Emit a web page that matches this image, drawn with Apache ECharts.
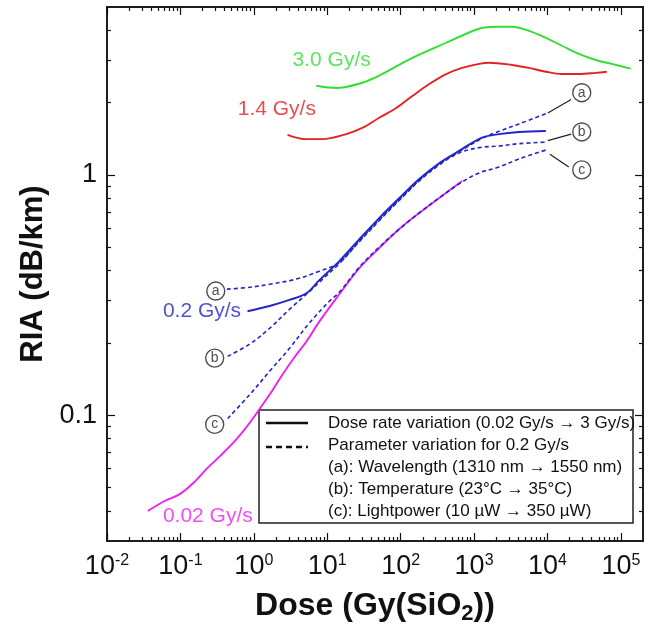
<!DOCTYPE html>
<html>
<head>
<meta charset="utf-8">
<script src="https://cdn.jsdelivr.net/npm/echarts@6/dist/echarts.min.js"></script>
<style>
html, body { margin: 0; padding: 0; background: #fff; }
#chart { width: 657px; height: 632px; }
</style>
</head>
<body>
<div id="chart"></div>
<script>
// values: dose in Gy(SiO2), RIA in dB/km
var dose30 = [7.1, 13.3, 30, 51, 144, 417, 1170, 1990, 3280, 5590, 9510, 15700, 26700, 45400, 75000, 136000];
var ria30 = [2.35, 2.30, 2.42, 2.59, 3.07, 3.55, 4.06, 4.14, 4.14, 3.98, 3.72, 3.45, 3.19, 3.01, 2.90, 2.77];

var dose14 = [2.88, 5.2, 8.6, 18.2, 30, 51, 87, 144, 245, 417, 687, 1170, 1600, 3280, 5590, 9510, 15700, 26700, 45400, 64100];
var ria14 = [1.47, 1.41, 1.41, 1.48, 1.57, 1.73, 1.90, 2.13, 2.39, 2.63, 2.79, 2.90, 2.93, 2.87, 2.79, 2.69, 2.63, 2.63, 2.66, 2.69];

var dose02 = [0.82, 1.64, 3.06, 5.2, 7.8, 14.6, 27.4, 51, 96, 179, 334, 625, 1285, 2190, 4090, 9500];
var ria02 = [0.271, 0.285, 0.302, 0.322, 0.365, 0.438, 0.541, 0.662, 0.802, 0.962, 1.12, 1.26, 1.43, 1.48, 1.51, 1.525];

var doseA = [0.43, 0.88, 1.64, 3.8, 7.8, 14.6, 27.4, 51, 96, 179, 334, 625, 1285, 2190, 4090, 9500];
var riaA = [0.335, 0.341, 0.351, 0.369, 0.398, 0.432, 0.532, 0.65, 0.79, 0.95, 1.11, 1.25, 1.42, 1.52, 1.63, 1.80];

var doseB = [0.44, 0.88, 1.64, 3.06, 5.2, 7.8, 14.6, 27.4, 51, 96, 179, 334, 625, 1170, 2190, 4090, 9500];
var riaB = [0.176, 0.198, 0.230, 0.276, 0.319, 0.358, 0.428, 0.528, 0.645, 0.785, 0.945, 1.10, 1.235, 1.30, 1.32, 1.35, 1.37];

var doseC = [0.44, 0.88, 1.64, 3.06, 5.7, 10.7, 14.6, 27.4, 51, 96, 179, 334, 687, 1170, 2190, 4090, 9500];
var riaC = [0.097, 0.122, 0.1525, 0.190, 0.242, 0.2985, 0.325, 0.414, 0.501, 0.596, 0.695, 0.802, 0.935, 1.02, 1.08, 1.166, 1.27];

var dose002 = [0.036, 0.061, 0.098, 0.157, 0.229, 0.343, 0.515, 0.75, 1.09, 1.64, 2.46, 3.58, 5.21, 7.83, 14.6, 27.4, 51.2, 95.7, 179, 334, 687];
var ria002 = [0.040, 0.044, 0.047, 0.053, 0.060, 0.0675, 0.0764, 0.0874, 0.102, 0.122, 0.148, 0.1745, 0.203, 0.246, 0.319, 0.41, 0.497, 0.596, 0.695, 0.802, 0.944];

// curve labels (anchor = left end of text)
var rateNames = ['3.0 Gy/s', '1.4 Gy/s', '0.2 Gy/s', '0.02 Gy/s'];
var rateColors = ['#33dd33', '#e32222', '#2424c8', '#ee22ee'];
var rateLabelAt = [[3.37, 2.99], [0.603, 1.88], [0.0577, 0.271], [0.0577, 0.0379]];

// circled markers (a),(b),(c) and leader lines
var markLetters = ['a', 'b', 'c', 'a', 'b', 'c'];
var markAt = [[0.303, 0.329], [0.293, 0.173], [0.293, 0.0917], [29300, 2.20], [29300, 1.51], [29300, 1.05]];
var leaders = [
  [[10100, 1.81], [21000, 2.06]],
  [[10100, 1.39], [21000, 1.48]],
  [[10800, 1.22], [19500, 1.08]]
];

var xMajor = [0.01, 0.1, 1, 10, 100, 1000, 10000, 100000];
var yMajor = [0.1, 1];
var legendRows = [
  'Dose rate variation (0.02 Gy/s \u2192 3 Gy/s)',
  'Parameter variation for 0.2 Gy/s',
  '(a): Wavelength (1310 nm \u2192 1550 nm)',
  '(b): Temperature (23\u00b0C \u2192 35\u00b0C)',
  '(c): Lightpower (10 \u00b5W \u2192 350 \u00b5W)'
];

function minors(majors, lo, hi) {
  var out = [];
  majors.concat([majors[0] / 10]).forEach(function (m) {
    for (var k = 2; k <= 9; k++) {
      var v = +(m * k).toPrecision(3);
      if (v > lo && v < hi) out.push(v);
    }
  });
  return out;
}
var xMinor = minors(xMajor, 0.01, 2e5);
var yMinor = minors([0.01, 0.1, 1], 0.03, 5);

function zip(xs, ys) {
  return xs.map(function (x, i) { return [x, ys[i]]; });
}

var FONT = 'Liberation Sans, Arial, sans-serif';

function expLabel(v) {
  var e = Math.round(Math.log(v) / Math.LN10);
  return '{b|10}{s|' + e + '}';
}

function xAxisDef(pos, ticks, len, withLabels) {
  var ax = {
    type: 'log', logBase: 10, min: 0.01, max: 2e5, position: pos,
    axisLine: { show: true, onZero: false, lineStyle: { color: '#111', width: 1.5 } },
    axisTick: { show: true, inside: true, length: len, customValues: ticks, lineStyle: { color: '#111', width: 1.2 } },
    axisLabel: { show: false },
    splitLine: { show: false }
  };
  if (withLabels) {
    ax.axisLabel = {
      show: true, margin: 12, customValues: xMajor, formatter: expLabel,
      rich: {
        b: { fontSize: 27, fontFamily: FONT, color: '#111' },
        s: { fontSize: 16, fontFamily: FONT, color: '#111', verticalAlign: 'top' }
      }
    };
    ax.name = '{t|Dose (Gy(SiO}{s|2}{t|))}';
    ax.nameLocation = 'middle';
    ax.nameGap = 46;
    ax.nameTextStyle = {
      rich: {
        t: { fontSize: 32, fontWeight: 'bold', fontFamily: FONT, color: '#111', lineHeight: 38 },
        s: { fontSize: 22, fontWeight: 'bold', fontFamily: FONT, color: '#111', verticalAlign: 'top', padding: [16, 0, 0, 0] }
      }
    };
  }
  return ax;
}

function yAxisDef(pos, ticks, len, withLabels) {
  var ax = {
    type: 'log', logBase: 10, min: 0.03, max: 5, position: pos,
    axisLine: { show: true, onZero: false, lineStyle: { color: '#111', width: 1.5 } },
    axisTick: { show: true, inside: true, length: len, customValues: ticks, lineStyle: { color: '#111', width: 1.2 } },
    axisLabel: { show: false },
    splitLine: { show: false }
  };
  if (withLabels) {
    ax.axisLabel = {
      show: true, margin: 10, customValues: yMajor,
      formatter: function (v) { return String(v); },
      fontSize: 27, fontFamily: FONT, color: '#111'
    };
    ax.name = 'RIA (dB/km)';
    ax.nameLocation = 'middle';
    ax.nameGap = 58;
    ax.nameTextStyle = { fontSize: 31, fontWeight: 'bold', fontFamily: FONT, color: '#111' };
  }
  return ax;
}

function curve(xs, ys, color, dashed) {
  return {
    type: 'line', data: zip(xs, ys), showSymbol: false, smooth: 0.35,
    lineStyle: { color: color, width: dashed ? 1.6 : 1.9, type: dashed ? [4, 3] : 'solid' },
    silent: true, z: dashed ? 3 : 2
  };
}

var series = [
  curve(dose30, ria30, rateColors[0], false),
  curve(dose14, ria14, rateColors[1], false),
  curve(dose002, ria002, rateColors[3], false),
  curve(dose02, ria02, rateColors[2], false),
  curve(doseA, riaA, rateColors[2], true),
  curve(doseB, riaB, rateColors[2], true),
  curve(doseC, riaC, rateColors[2], true)
];

leaders.forEach(function (seg) {
  series.push({
    type: 'line', data: seg, showSymbol: false, silent: true,
    lineStyle: { color: '#222', width: 1.3 }, z: 4
  });
});

series.push({
  type: 'scatter', symbolSize: 0, silent: true, z: 5,
  data: rateLabelAt.map(function (p, i) {
    return {
      value: p,
      label: { show: true, position: 'right', distance: 0, formatter: rateNames[i], color: rateColors[i], fontSize: 21, fontFamily: FONT }
    };
  })
});

series.push({
  type: 'scatter', symbol: 'circle', symbolSize: 18, silent: true, z: 6,
  itemStyle: { color: '#fff', borderColor: '#222', borderWidth: 1.4 },
  label: { show: true, position: 'inside', color: '#222', fontSize: 14, fontFamily: FONT },
  data: markAt.map(function (p, i) {
    return { value: p, label: { formatter: markLetters[i] } };
  })
});

// legend box drawn as graphic (rows with their own text)
var legendChildren = [
  { type: 'rect', shape: { x: 0, y: 0, width: 374, height: 113 }, style: { fill: '#fff', stroke: '#222', lineWidth: 1.5 } },
  { type: 'line', shape: { x1: 7, y1: 13, x2: 49, y2: 13 }, style: { stroke: '#111', lineWidth: 2.5 } },
  { type: 'line', shape: { x1: 7, y1: 37, x2: 49, y2: 37 }, style: { stroke: '#111', lineWidth: 2.5, lineDash: [6, 4] } }
];
legendRows.forEach(function (t, i) {
  legendChildren.push({
    type: 'text', x: 69, y: 13 + i * 22,
    style: { text: t, fill: '#111', fontSize: 17, fontFamily: FONT, textVerticalAlign: 'middle' }
  });
});

var chart = echarts.init(document.getElementById('chart'));
chart.setOption({
  animation: false,
  backgroundColor: '#fff',
  grid: { left: 107, right: 14, top: 7, bottom: 91 },
  xAxis: [
    xAxisDef('bottom', xMajor, 8, true),
    xAxisDef('bottom', xMinor, 4, false),
    xAxisDef('top', xMajor, 8, false),
    xAxisDef('top', xMinor, 4, false)
  ],
  yAxis: [
    yAxisDef('left', yMajor, 8, true),
    yAxisDef('left', yMinor, 4, false),
    yAxisDef('right', yMajor, 8, false),
    yAxisDef('right', yMinor, 4, false)
  ],
  series: series,
  graphic: [{ type: 'group', x: 259, y: 410, z: 100, children: legendChildren }]
});
</script>
</body>
</html>
